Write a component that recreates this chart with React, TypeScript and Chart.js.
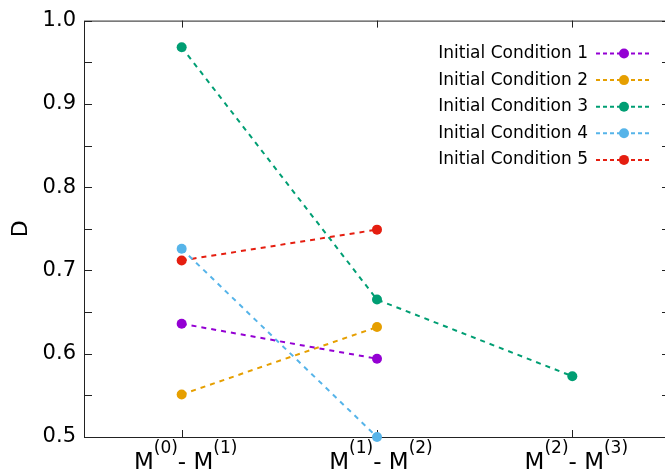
import React, { useEffect, useRef } from 'react';
import { Chart, registerables } from 'chart.js';

Chart.register(...registerables);

// ---- data ----
const xValues = [0, 1, 2];
const xSupLeft = ['(0)', '(1)', '(2)'];
const xSupRight = ['(1)', '(2)', '(3)'];
const seriesNames = [
  'Initial Condition 1',
  'Initial Condition 2',
  'Initial Condition 3',
  'Initial Condition 4',
  'Initial Condition 5',
];
const seriesColors = ['#9400d3', '#e69f00', '#009e73', '#56b4e9', '#e51e10'];
const ic1 = [0.636, 0.594, null];
const ic2 = [0.551, 0.632, null];
const ic3 = [0.968, 0.665, 0.573];
const ic4 = [0.726, 0.5, null];
const ic5 = [0.712, 0.749, null];
const seriesValues = [ic1, ic2, ic3, ic4, ic5];
const yMin = 0.5;
const yMax = 1.0;
const yMajorStep = 0.1;
const yMinorStep = 0.05;
const yTitle = 'D';

const FONT = '"DejaVu Sans", sans-serif';

const framePlugin = {
  id: 'frame',
  beforeDatasetsDraw(chart: any) {
    const { ctx, chartArea: a, scales } = chart;
    ctx.save();
    ctx.strokeStyle = '#222';
    ctx.lineWidth = 1;
    ctx.strokeRect(a.left + 0.5, a.top + 0.5, a.right - a.left, a.bottom - a.top);
    ctx.beginPath();
    const n = Math.round((yMax - yMin) / yMinorStep);
    for (let i = 0; i <= n; i++) {
      const v = yMin + i * yMinorStep;
      const y = Math.round(scales.y.getPixelForValue(v)) + 0.5;
      ctx.moveTo(a.left, y);
      ctx.lineTo(a.left + 8, y);
      ctx.moveTo(a.right, y);
      ctx.lineTo(a.right - 8, y);
    }
    xValues.forEach((v) => {
      const x = Math.round(scales.x.getPixelForValue(v)) + 0.5;
      ctx.moveTo(x, a.bottom);
      ctx.lineTo(x, a.bottom - 7);
      ctx.moveTo(x, a.top);
      ctx.lineTo(x, a.top + 7);
    });
    ctx.stroke();
    ctx.restore();
  },
  afterDraw(chart: any) {
    const { ctx, chartArea: a, scales } = chart;
    ctx.save();
    // x tick labels with superscripts
    const mainFont = `23px ${FONT}`;
    const supFont = `17px ${FONT}`;
    ctx.fillStyle = '#000';
    ctx.textBaseline = 'alphabetic';
    ctx.textAlign = 'left';
    xValues.forEach((v, i) => {
      const parts: [string, string][] = [
        ['M', mainFont],
        [xSupLeft[i], supFont],
        ['- M', mainFont],
        [xSupRight[i], supFont],
      ];
      let total = 0;
      const widths = parts.map(([t, f]) => {
        ctx.font = f;
        const w = ctx.measureText(t).width;
        total += w;
        return w;
      });
      let x = scales.x.getPixelForValue(v) - total / 2 + 4;
      parts.forEach(([t, f], k) => {
        ctx.font = f;
        const baseY = f === supFont ? a.bottom + 16 : a.bottom + 32;
        ctx.fillText(t, x, baseY);
        x += widths[k];
      });
    });
    // legend
    ctx.font = `17px ${FONT}`;
    ctx.textBaseline = 'middle';
    ctx.textAlign = 'right';
    seriesNames.forEach((name, i) => {
      const y = 53.5 + i * 26.6;
      ctx.fillStyle = '#000';
      ctx.fillText(name, 588, y);
      ctx.strokeStyle = seriesColors[i];
      ctx.lineWidth = 2;
      ctx.setLineDash([4, 3]);
      ctx.beginPath();
      ctx.moveTo(596, y);
      ctx.lineTo(651, y);
      ctx.stroke();
      ctx.setLineDash([]);
      ctx.fillStyle = seriesColors[i];
      ctx.beginPath();
      ctx.arc(624, y, 5, 0, Math.PI * 2);
      ctx.fill();
    });
    ctx.restore();
  },
};

export default function App() {
  const ref = useRef<HTMLCanvasElement>(null);
  useEffect(() => {
    if (!ref.current) return;
    const datasets = seriesValues.map((vals, i) => ({
      label: seriesNames[i],
      data: vals
        .map((y, k) => (y === null ? null : { x: xValues[k], y }))
        .filter((p) => p !== null),
      borderColor: seriesColors[i],
      backgroundColor: seriesColors[i],
      borderWidth: 2,
      borderDash: [5, 5],
      pointRadius: 5,
      pointBorderWidth: 0,
      pointBackgroundColor: seriesColors[i],
      tension: 0,
      clip: false as any,
    }));
    const chart = new Chart(ref.current, {
      type: 'line',
      data: { datasets },
      options: {
        animation: false,
        responsive: false,
        devicePixelRatio: 1,
        layout: { padding: { top: 20, right: 20, left: 0, bottom: 0 } },
        plugins: { legend: { display: false }, tooltip: { enabled: false } },
        scales: {
          x: {
            type: 'linear',
            min: -0.5,
            max: 2.5,
            grid: { display: false, drawTicks: false },
            border: { display: false },
            ticks: { display: false, stepSize: 1 },
            afterFit: (s: any) => {
              s.height = 33;
            },
          },
          y: {
            type: 'linear',
            min: yMin,
            max: yMax,
            grid: { display: false, drawTicks: false },
            border: { display: false },
            ticks: {
              stepSize: yMajorStep,
              padding: 8,
              color: '#000',
              font: { family: FONT, size: 21 },
              callback: (v: any) => Number(v).toFixed(1),
            },
            title: {
              display: true,
              text: yTitle,
              color: '#000',
              font: { family: FONT, size: 22 },
              padding: { top: 8, bottom: 0 },
            },
            afterFit: (s: any) => {
              s.width = 84;
            },
          },
        },
      },
      plugins: [framePlugin],
    });
    return () => chart.destroy();
  }, []);
  return (
    <canvas
      ref={ref}
      width={690}
      height={470}
      style={{ position: 'absolute', left: 0, top: 0, width: 690, height: 470 }}
    />
  );
}
